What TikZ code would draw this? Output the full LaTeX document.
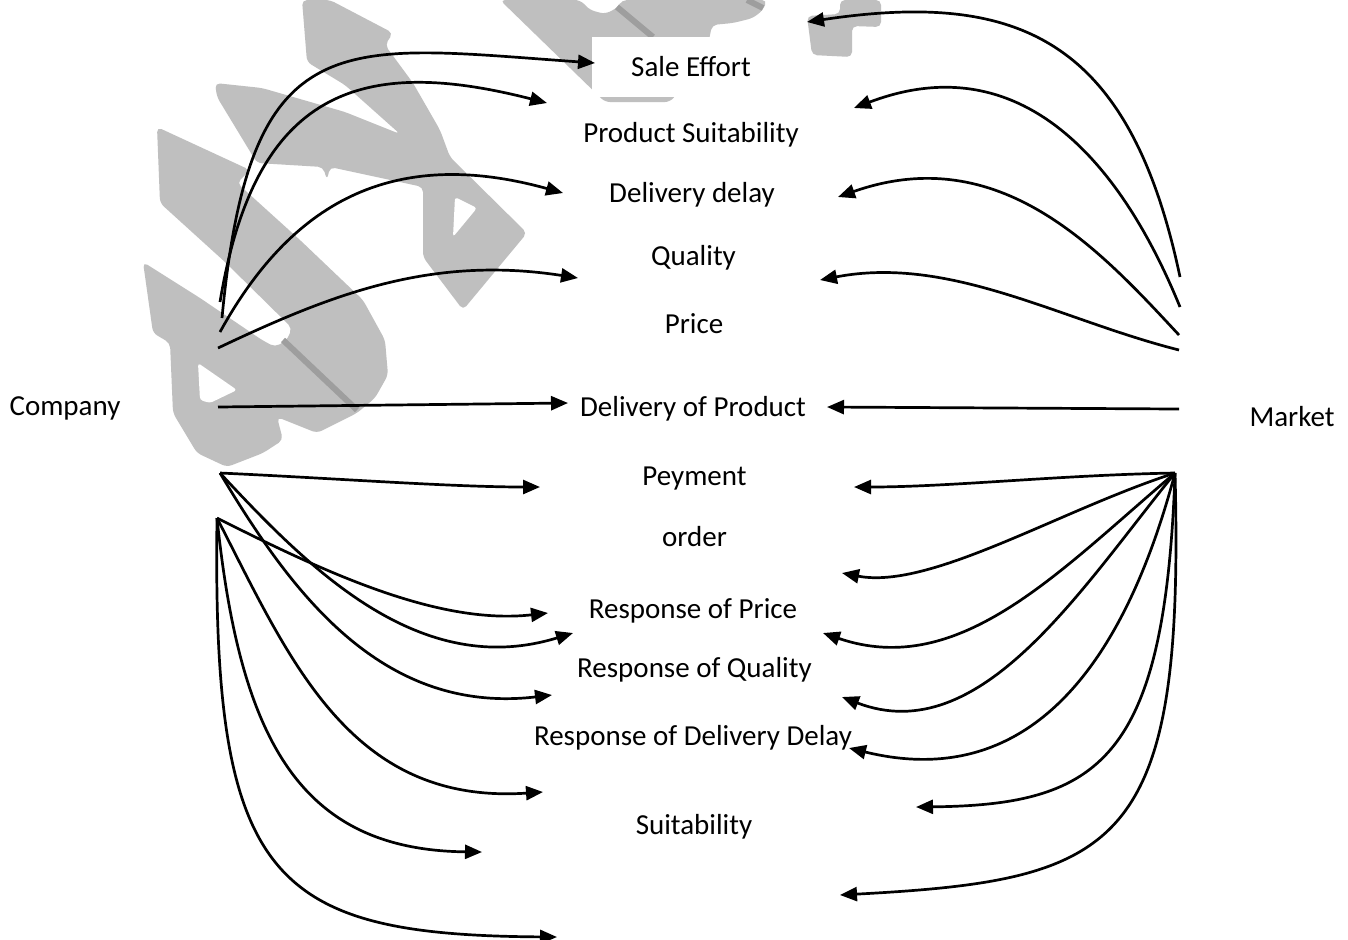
\documentclass[tikz,border=0pt]{standalone}
\usepackage{fontspec}
\setmainfont{Carlito}
\usetikzlibrary{arrows.meta}
\begin{document}
\begin{tikzpicture}[x=0.5pt,y=-0.5pt,
  lbl/.style={font=\fontsize{14.5}{17}\selectfont, inner sep=0pt, anchor=base},
  arr/.style={line width=1.35pt, -{Triangle[length=8.5pt,width=7pt]}},
  wm/.style={fill=black!25, draw=none, rounded corners=2.5pt},
  wmhole/.style={fill=white, draw=none, rounded corners=1.5pt},
  wmline/.style={draw=black!38, line width=3pt}]
\useasboundingbox (0,0) rectangle (1348,939);
\fill[white] (0,0) rectangle (1348,939);

% grey calligraphic background mark
\fill[wm] (302,0) -- (330,0) -- (393,33) -- (385,45) -- (413,83) -- (440,130) -- (450,157)
  -- (527,233) -- (463,310) -- (423,257) -- (423,187) -- (330,167) -- (327,180) -- (323,167)
  -- (257,163) -- (217,97) -- (215,83) -- (262,88) -- (345,112) -- (400,134) -- (345,85)
  -- (307,62) -- cycle;
\fill[wmhole] (455,197) -- (477,208) -- (453,237) -- cycle;
\fill[wm] (157,127) -- (250,170) -- (237,183) -- (300,240) -- (363,300) -- (385,340)
  -- (388,375) -- (375,398) -- (357,413) -- (317,433) -- (277,417) -- (283,440) -- (263,453)
  -- (227,467) -- (197,453) -- (173,413) -- (170,343) -- (153,333) -- (143,262) -- (200,298)
  -- (262,340) -- (275,347) -- (287,340) -- (292,328) -- (225,262) -- (160,203) -- cycle;
\fill[wmhole] (198,363) -- (237,390) -- (210,403) -- (200,400) -- cycle;
\fill[wm] (500,0) -- (580,0) -- (590,10) -- (605,14) -- (617,8) -- (622,0) -- (767,0)
  -- (763,10) -- (753,18) -- (733,23) -- (712,25) -- (705,60) -- (670,102) -- (605,102) -- cycle;
\fill[wm] (840,0) -- (881,0) -- (881,27) -- (852,26) -- (852,57) -- (812,55) -- (807,16)
  -- (840,14) -- cycle;
\draw[wmline] (283,340) -- (357,410);
\draw[wmline] (617,7) -- (653,37);
\draw[wmline] (747,0) -- (763,8);

% labels
\node[lbl] (company) at (65,415) {Company};
\node[lbl] (market) at (1292,426) {Market};
\node[lbl, fill=white, minimum width=99pt, minimum height=30pt, anchor=center] (sale) at (691,67) {Sale Effort};
\node[lbl] (ps) at (691,142) {Product Suitability};
\node[lbl] (dd) at (692,202) {Delivery delay};
\node[lbl] (q) at (693.5,265) {Quality};
\node[lbl] (price) at (694,333) {Price};
\node[lbl] (dp) at (693,416) {Delivery of Product};
\node[lbl] (pay) at (694.5,485) {Peyment};
\node[lbl] (order) at (694.5,546) {order};
\node[lbl] (rp) at (693,618) {Response of Price};
\node[lbl] (rq) at (694.5,677) {Response of Quality};
\node[lbl] (rdd) at (693,745) {Response of Delivery Delay};
\node[lbl] (suit) at (694,834) {Suitability};

% company-side ends
\coordinate (c1) at (222,318);
\coordinate (c2) at (220,302);
\coordinate (c3) at (220,332);
\coordinate (c4) at (218,348);
\coordinate (c5) at (218,407);
\coordinate (o1) at (220,473);
\coordinate (o2) at (217,518);
% market-side ends
\coordinate (m1) at (1180,277);
\coordinate (m2) at (1180,307);
\coordinate (m3) at (1179,335);
\coordinate (m4) at (1179,350);
\coordinate (m5) at (1179,409);
\coordinate (m6) at (1175,473);
% tips from the company side
\coordinate (tSale) at (595,63);
\coordinate (tPS) at (547,103);
\coordinate (tDD) at (563,193);
\coordinate (tQ) at (578,278);
\coordinate (tDP) at (568,403);
\coordinate (tPay) at (540,487);
\coordinate (tL1) at (548,613);
\coordinate (tL2) at (573,633);
\coordinate (tL3) at (552,695);
\coordinate (tL4) at (543,792);
\coordinate (tL5) at (482,852);
\coordinate (tL6) at (557,937);
% tips from the market side
\coordinate (uSale) at (807,22);
\coordinate (uPS) at (854,108);
\coordinate (uDD) at (838,197);
\coordinate (uQ) at (820,280);
\coordinate (uDP) at (827,407);
\coordinate (uPay) at (854,487);
\coordinate (uOrd) at (842,573);
\coordinate (uRP) at (823,633);
\coordinate (uRQ) at (842,697);
\coordinate (uRDD) at (849,748);
\coordinate (uSuit) at (916,807);
\coordinate (uBot) at (840,895);

% company -> items
\draw[arr] (c1) .. controls (250,20) and (340,45) .. (tSale);
\draw[arr] (c2) .. controls (255,90) and (360,55) .. (tPS);
\draw[arr] (c3) .. controls (290,205) and (390,145) .. (tDD);
\draw[arr] (c4) .. controls (330,295) and (430,255) .. (tQ);
\draw[arr] (c5) -- (tDP);
\draw[arr] (o1) .. controls (330,478) and (450,487) .. (tPay);
\draw[arr] (o2) .. controls (330,575) and (440,625) .. (tL1);
\draw[arr] (o1) .. controls (310,570) and (420,680) .. (tL2);
\draw[arr] (o1) .. controls (290,590) and (380,715) .. (tL3);
\draw[arr] (o2) .. controls (290,660) and (350,805) .. (tL4);
\draw[arr] (o2) .. controls (240,740) and (300,850) .. (tL5);
\draw[arr] (o2) .. controls (212,880) and (270,935) .. (tL6);

% market -> items
\draw[arr] (m1) .. controls (1130,40) and (1020,-10) .. (uSale);
\draw[arr] (m2) .. controls (1120,160) and (1020,45) .. (uPS);
\draw[arr] (m3) .. controls (1100,250) and (1000,140) .. (uDD);
\draw[arr] (m4) .. controls (1060,320) and (950,255) .. (uQ);
\draw[arr] (m5) -- (uDP);
\draw[arr] (m6) .. controls (1060,475) and (950,487) .. (uPay);
\draw[arr] (m6) .. controls (1060,510) and (930,590) .. (uOrd);
\draw[arr] (m6) .. controls (1060,570) and (960,680) .. (uRP);
\draw[arr] (m6) .. controls (1080,590) and (980,750) .. (uRQ);
\draw[arr] (m6) .. controls (1120,680) and (1020,790) .. (uRDD);
\draw[arr] (m6) .. controls (1165,760) and (1100,805) .. (uSuit);
\draw[arr] (m6) .. controls (1185,850) and (1120,880) .. (uBot);
\end{tikzpicture}
\end{document}
